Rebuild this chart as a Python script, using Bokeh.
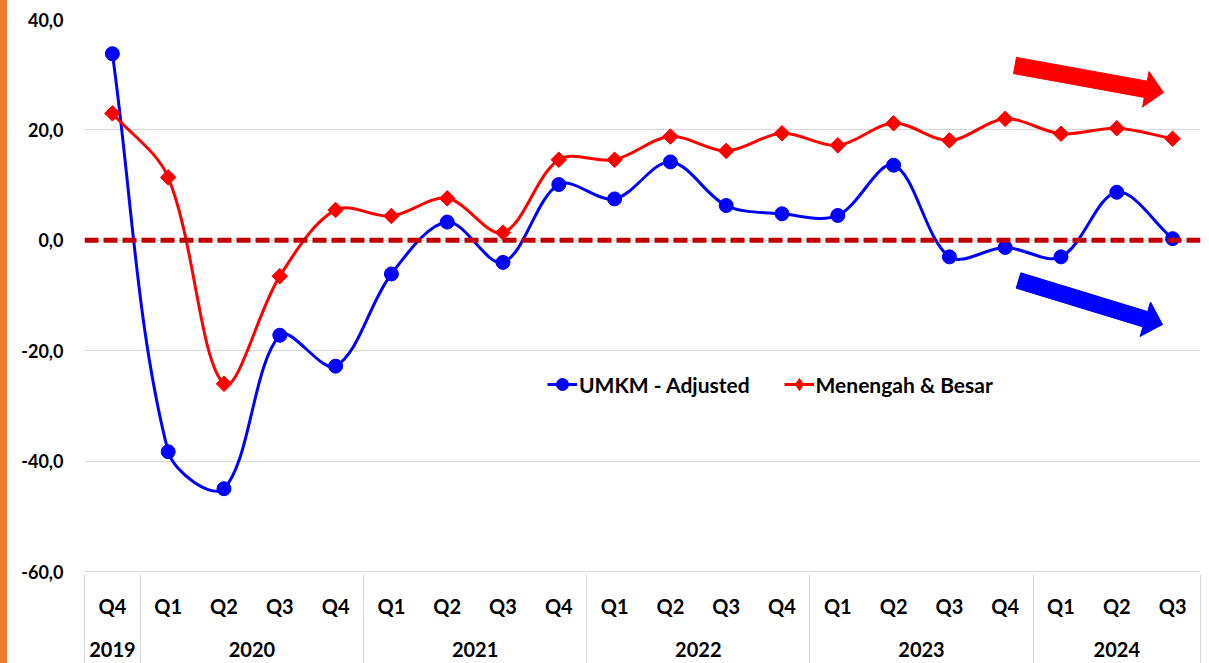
import math
from bokeh.plotting import figure
from bokeh.models import FixedTicker, LinearAxis, Range1d, Legend, LegendItem, Span
from bokeh.embed import file_html
from bokeh.resources import INLINE

# ---------------- data ----------------
quarters = ["Q4", "Q1", "Q2", "Q3", "Q4", "Q1", "Q2", "Q3", "Q4", "Q1",
            "Q2", "Q3", "Q4", "Q1", "Q2", "Q3", "Q4", "Q1", "Q2", "Q3"]
years = ["2019", "2020", "2020", "2020", "2020", "2021", "2021", "2021", "2021", "2022",
         "2022", "2022", "2022", "2023", "2023", "2023", "2023", "2024", "2024", "2024"]
umkm = [33.8, -38.3, -45.0, -17.2, -22.8, -6.1, 3.3, -4.0, 10.1, 7.5,
        14.2, 6.3, 4.8, 4.5, 13.6, -3.0, -1.3, -3.0, 8.7, 0.3]
besar = [23.0, 11.4, -26.0, -6.5, 5.5, 4.4, 7.6, 1.4, 14.6, 14.6,
         18.8, 16.2, 19.4, 17.2, 21.2, 18.1, 22.0, 19.3, 20.3, 18.4]
y_ticks = [-60, -40, -20, 0, 20, 40]
series_names = ["UMKM - Adjusted", "Menengah & Besar"]

# ---------------- style / layout ----------------
FONT = "Lato"
BLUE = "#0000FF"
RED = "#FF0000"
DARKRED = "#C00000"
GRID = "#D9D9D9"
ORANGE = "#ED7D31"

n = len(quarters)
xs = [i + 0.5 for i in range(n)]
X_LO, X_HI = 0, n
Y_LO, Y_HI = y_ticks[0], y_ticks[-1]

W, H = 1209, 663
PL, PR, PT, PB = 84, 1200, 19, 571   # frame edges in canvas pixels
SX = (PR - PL) / (X_HI - X_LO)
SY = (PB - PT) / (Y_HI - Y_LO)


def px_to_x(px):
    return X_LO + (px - PL) / SX


def py_to_y(py):
    return Y_HI - (py - PT) / SY


p = figure(width=W, height=H,
           x_range=Range1d(X_LO, X_HI), y_range=Range1d(Y_LO, Y_HI),
           output_backend="svg", toolbar_location=None,
           x_axis_location=None,
           min_border_left=PL, min_border_right=W - PR,
           min_border_top=PT, min_border_bottom=H - PB)
# page-anchored, with an orange strip along the left edge (shows through the
# transparent border area of the canvas)
p.styles = {"position": "absolute", "left": "0px", "top": "0px",
            "background": f"linear-gradient(to right, {ORANGE} 0px, {ORANGE} 7px, white 7px, white 100%)"}
p.outline_line_color = None
p.background_fill_color = "white"
p.border_fill_color = "white"
p.border_fill_alpha = 0

# y axis
p.yaxis.ticker = FixedTicker(ticks=y_ticks, minor_ticks=[])
p.yaxis.major_label_overrides = {t: f"{t:.1f}".replace(".", ",") for t in y_ticks}
p.yaxis.axis_line_color = None
p.yaxis.major_tick_line_color = None
p.yaxis.minor_tick_line_color = None
p.yaxis.major_tick_out = 0
p.yaxis.major_label_standoff = 21
p.yaxis.major_label_text_font = FONT
p.yaxis.major_label_text_font_style = "bold"
p.yaxis.major_label_text_font_size = "18px"
p.yaxis.major_label_text_color = "black"

p.ygrid.ticker = FixedTicker(ticks=y_ticks, minor_ticks=[])
p.ygrid.grid_line_color = GRID
p.ygrid.grid_line_width = 1
p.xgrid.grid_line_color = None

# category boundaries & year groups
bounds = [0] + [i for i in range(1, n) if years[i] != years[i - 1]] + [n]
year_centers = [(bounds[k] + bounds[k + 1]) / 2 for k in range(len(bounds) - 1)]
year_labels = [years[bounds[k]] for k in range(len(bounds) - 1)]

qax = LinearAxis(ticker=FixedTicker(ticks=xs, minor_ticks=[]),
                 major_label_overrides={xv: q for xv, q in zip(xs, quarters)},
                 axis_line_color=GRID, axis_line_width=1,
                 major_tick_line_color=None, major_tick_in=0, major_tick_out=0,
                 minor_tick_line_color=None, minor_tick_in=0, minor_tick_out=0,
                 major_label_standoff=22,
                 major_label_text_font=FONT, major_label_text_font_style="bold",
                 major_label_text_font_size="20px", major_label_text_color="black")
p.add_layout(qax, "below")

yax = LinearAxis(ticker=FixedTicker(ticks=year_centers, minor_ticks=bounds),
                 major_label_overrides={c: lab for c, lab in zip(year_centers, year_labels)},
                 axis_line_color=None,
                 major_tick_line_color=None, major_tick_in=0, major_tick_out=0,
                 minor_tick_line_color=GRID, minor_tick_line_width=1,
                 minor_tick_in=46, minor_tick_out=46,
                 major_label_standoff=-25,
                 major_label_text_font=FONT, major_label_text_font_style="bold",
                 major_label_text_font_size="20px", major_label_text_color="black")
p.add_layout(yax, "below")


# ---------------- smoothed series (Excel-like bezier, chord weighted) ----------------
def smooth(xv, yv):
    m = len(xv)
    P = [(xx * SX, yy * SY) for xx, yy in zip(xv, yv)]

    def dist(a, b):
        return math.hypot(P[a][0] - P[b][0], P[a][1] - P[b][1])

    d = dict(x0=[], y0=[], x1=[], y1=[], cx0=[], cy0=[], cx1=[], cy1=[])
    for i in range(m - 1):
        a = i - 1 if i > 0 else i
        b = i + 2 if i + 2 < m else i + 1
        dc = dist(i, i + 1)
        dp = dist(a, i)
        dn = dist(i + 1, b)
        f0 = dc / (dp + dc) / 3 if (dp + dc) > 0 else 0
        f1 = dc / (dc + dn) / 3 if (dc + dn) > 0 else 0
        d["x0"].append(xv[i]); d["y0"].append(yv[i])
        d["x1"].append(xv[i + 1]); d["y1"].append(yv[i + 1])
        d["cx0"].append(xv[i] + (xv[i + 1] - xv[a]) * f0)
        d["cy0"].append(yv[i] + (yv[i + 1] - yv[a]) * f0)
        d["cx1"].append(xv[i + 1] - (xv[b] - xv[i]) * f1)
        d["cy1"].append(yv[i + 1] - (yv[b] - yv[i]) * f1)
    return d


bu = smooth(xs, umkm)
blue_line = p.bezier(x0=bu["x0"], y0=bu["y0"], x1=bu["x1"], y1=bu["y1"],
                     cx0=bu["cx0"], cy0=bu["cy0"], cx1=bu["cx1"], cy1=bu["cy1"],
                     line_color=BLUE, line_width=3)
blue_pts = p.scatter(xs, umkm, marker="circle", size=14,
                     fill_color=BLUE, line_color=BLUE)

br = smooth(xs, besar)
red_line = p.bezier(x0=br["x0"], y0=br["y0"], x1=br["x1"], y1=br["y1"],
                    cx0=br["cx0"], cy0=br["cy0"], cx1=br["cx1"], cy1=br["cy1"],
                    line_color=RED, line_width=3)
red_pts = p.scatter(xs, besar, marker="square", size=11, angle=math.pi / 4,
                    fill_color=RED, line_color=RED)
# diamond used only for the legend swatch
red_key = p.scatter(xs, besar, marker="diamond", size=16,
                    fill_color=RED, line_color=RED, visible=False)

# zero reference line
p.add_layout(Span(location=0, dimension="width", line_color=DARKRED,
                  line_width=5, line_dash="14 5"))

# ---------------- decorative trend arrows ----------------
arrows = [
    dict(tail=(1014.5, 65), tip=(1163, 92), body=16.5, head_w=36, head_len=18, color=RED),
    dict(tail=(1018, 280), tip=(1162, 324), body=16, head_w=36, head_len=18, color=BLUE),
]
for a in arrows:
    tx, ty = a["tail"]
    hx, hy = a["tip"]
    L = math.hypot(hx - tx, hy - ty)
    ux, uy = (hx - tx) / L, (hy - ty) / L
    nx, ny = -uy, ux
    bx, by = hx - ux * a["head_len"], hy - uy * a["head_len"]
    bw, hw = a["body"] / 2, a["head_w"] / 2
    pts = [(tx + nx * bw, ty + ny * bw), (bx + nx * bw, by + ny * bw),
           (bx + nx * hw, by + ny * hw), (hx, hy),
           (bx - nx * hw, by - ny * hw), (bx - nx * bw, by - ny * bw),
           (tx - nx * bw, ty - ny * bw)]
    p.patch([px_to_x(q[0]) for q in pts], [py_to_y(q[1]) for q in pts],
            fill_color=a["color"], line_color=a["color"], line_width=1)

# ---------------- legend ----------------
legend = Legend(items=[LegendItem(label=series_names[0], renderers=[blue_line, blue_pts]),
                       LegendItem(label=series_names[1], renderers=[red_line, red_key])],
                orientation="horizontal", location=(463, 171),
                border_line_color=None, background_fill_alpha=0,
                padding=0, margin=0, spacing=34, label_standoff=2,
                glyph_width=30, glyph_height=32,
                label_text_font=FONT, label_text_font_style="bold",
                label_text_font_size="21px", label_text_color="black")
p.add_layout(legend)

open("out.html", "w").write(file_html(p, INLINE))
